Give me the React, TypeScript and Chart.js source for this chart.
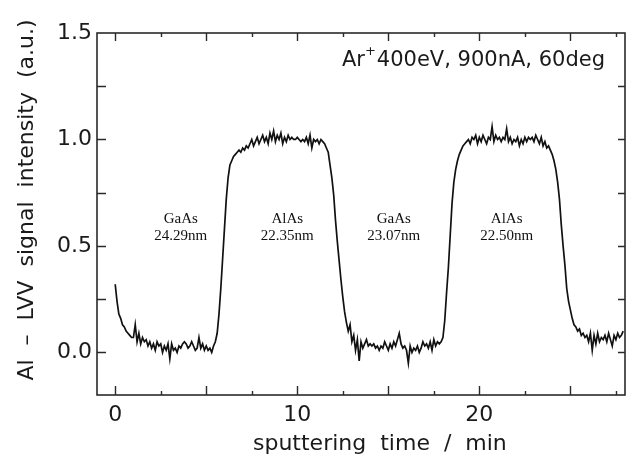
import React, { useEffect, useRef } from "react";
import { Chart, registerables } from "chart.js";

Chart.register(...registerables);

// sputtering time (min)
const timeMin = [
  0.0, 0.1, 0.2, 0.3, 0.4, 0.5, 0.6, 0.7, 0.8, 0.9,
  1.0, 1.1, 1.2, 1.3, 1.4, 1.5, 1.6, 1.7, 1.8, 1.9,
  2.0, 2.1, 2.2, 2.3, 2.4, 2.5, 2.6, 2.7, 2.8, 2.9,
  3.0, 3.1, 3.2, 3.3, 3.4, 3.5, 3.6, 3.7, 3.8, 3.9,
  4.0, 4.1, 4.2, 4.3, 4.4, 4.5, 4.6, 4.7, 4.8, 4.9,
  5.0, 5.1, 5.2, 5.3, 5.4, 5.5, 5.6, 5.7, 5.8, 5.9,
  6.0, 6.1, 6.2, 6.3, 6.4, 6.5, 6.6, 6.7, 6.8, 6.9,
  7.0, 7.1, 7.2, 7.3, 7.4, 7.5, 7.6, 7.7, 7.8, 7.9,
  8.0, 8.1, 8.2, 8.3, 8.4, 8.5, 8.6, 8.7, 8.8, 8.9,
  9.0, 9.1, 9.2, 9.3, 9.4, 9.5, 9.6, 9.7, 9.8, 9.9,
  10.0, 10.1, 10.2, 10.3, 10.4, 10.5, 10.6, 10.7, 10.8, 10.9,
  11.0, 11.1, 11.2, 11.3, 11.4, 11.5, 11.6, 11.7, 11.8, 11.9,
  12.0, 12.1, 12.2, 12.3, 12.4, 12.5, 12.6, 12.7, 12.8, 12.9,
  13.0, 13.1, 13.2, 13.3, 13.4, 13.5, 13.6, 13.7, 13.8, 13.9,
  14.0, 14.1, 14.2, 14.3, 14.4, 14.5, 14.6, 14.7, 14.8, 14.9,
  15.0, 15.1, 15.2, 15.3, 15.4, 15.5, 15.6, 15.7, 15.8, 15.9,
  16.0, 16.1, 16.2, 16.3, 16.4, 16.5, 16.6, 16.7, 16.8, 16.9,
  17.0, 17.1, 17.2, 17.3, 17.4, 17.5, 17.6, 17.7, 17.8, 17.9,
  18.0, 18.1, 18.2, 18.3, 18.4, 18.5, 18.6, 18.7, 18.8, 18.9,
  19.0, 19.1, 19.2, 19.3, 19.4, 19.5, 19.6, 19.7, 19.8, 19.9,
  20.0, 20.1, 20.2, 20.3, 20.4, 20.5, 20.6, 20.7, 20.8, 20.9,
  21.0, 21.1, 21.2, 21.3, 21.4, 21.5, 21.6, 21.7, 21.8, 21.9,
  22.0, 22.1, 22.2, 22.3, 22.4, 22.5, 22.6, 22.7, 22.8, 22.9,
  23.0, 23.1, 23.2, 23.3, 23.4, 23.5, 23.6, 23.7, 23.8, 23.9,
  24.0, 24.1, 24.2, 24.3, 24.4, 24.5, 24.6, 24.7, 24.8, 24.9,
  25.0, 25.1, 25.2, 25.3, 25.4, 25.5, 25.6, 25.7, 25.8, 25.9,
  26.0, 26.1, 26.2, 26.3, 26.4, 26.5, 26.6, 26.7, 26.8, 26.9,
  27.0, 27.1, 27.2, 27.3, 27.4, 27.5, 27.6, 27.7, 27.8, 27.9,
];

// Al-LVV signal intensity (a.u.)
const alSignal = [
  0.32, 0.24, 0.18, 0.16, 0.13, 0.12, 0.10, 0.09, 0.08, 0.07,
  0.07, 0.13, 0.05, 0.09, 0.04, 0.07, 0.05, 0.06, 0.03, 0.05,
  0.02, 0.04, 0.01, 0.05, 0.03, 0.04, 0.00, 0.03, 0.01, 0.04,
  -0.03, 0.04, 0.01, 0.02, 0.00, 0.03, 0.02, 0.04, 0.05, 0.04,
  0.02, 0.03, 0.05, 0.03, 0.01, 0.02, 0.07, 0.02, 0.04, 0.01,
  0.03, 0.01, 0.02, 0.00, 0.03, 0.05, 0.09, 0.18, 0.30, 0.44,
  0.58, 0.72, 0.82, 0.88, 0.90, 0.92, 0.93, 0.94, 0.95, 0.94,
  0.96, 0.95, 0.97, 0.96, 0.98, 1.00, 0.97, 0.99, 1.01, 0.98,
  1.00, 1.02, 0.99, 1.01, 0.98, 1.03, 1.00, 1.04, 0.99, 1.02,
  1.00, 1.03, 0.98, 1.01, 0.99, 1.02, 1.00, 1.01, 1.00, 1.00,
  1.01, 1.00, 0.99, 1.00, 0.99, 1.01, 0.98, 1.02, 0.96, 1.00,
  0.99, 1.00, 0.98, 1.00, 0.99, 0.98, 0.96, 0.94, 0.88, 0.82,
  0.74, 0.62, 0.52, 0.43, 0.34, 0.26, 0.19, 0.14, 0.10, 0.13,
  0.05, 0.08, 0.01, 0.06, -0.04, 0.05, 0.02, 0.04, 0.06, 0.03,
  0.04, 0.03, 0.04, 0.02, 0.03, 0.01, 0.03, 0.02, 0.05, 0.03,
  0.01, 0.04, 0.02, 0.05, 0.03, 0.06, 0.09, 0.04, 0.02, 0.03,
  0.01, -0.05, 0.03, 0.00, 0.02, 0.01, 0.03, 0.00, 0.02, 0.05,
  0.03, 0.04, 0.02, 0.05, 0.01, 0.06, 0.03, 0.05, 0.04, 0.05,
  0.07, 0.15, 0.28, 0.40, 0.55, 0.70, 0.80, 0.86, 0.90, 0.93,
  0.95, 0.97, 0.98, 0.99, 1.00, 0.98, 1.01, 1.00, 1.02, 0.98,
  1.01, 0.99, 1.02, 1.00, 0.98, 1.01, 1.00, 1.06, 0.99, 1.02,
  1.00, 1.01, 0.99, 1.01, 1.00, 1.05, 0.99, 1.01, 0.98, 1.00,
  0.99, 1.01, 0.97, 1.00, 0.98, 1.01, 0.99, 1.01, 1.00, 1.01,
  0.99, 1.02, 1.00, 0.98, 1.01, 0.97, 0.99, 0.96, 0.97, 0.95,
  0.93, 0.90, 0.86, 0.80, 0.72, 0.60, 0.50, 0.41, 0.30, 0.24,
  0.20, 0.16, 0.13, 0.12, 0.10, 0.11, 0.08, 0.09, 0.07, 0.08,
  0.05, 0.09, 0.01, 0.08, 0.04, 0.09, 0.05, 0.07, 0.06, 0.08,
  0.05, 0.09, 0.06, 0.03, 0.08, 0.06, 0.09, 0.07, 0.08, 0.10,
];

const xTickLabels = [0, 10, 20];
const yTickLabels = [0, 0.5, 1.0, 1.5];
const xMajorTicks = [0, 5, 10, 15, 20, 25];
const xMinorTicks = [2.5, 7.5, 12.5, 17.5, 22.5, 27.5];
const yFrameTicks = [0, 0.25, 0.5, 0.75, 1.0, 1.25];

const layerNames = ["GaAs", "AlAs", "GaAs", "AlAs"];
const layerThickness = ["24.29nm", "22.35nm", "23.07nm", "22.50nm"];
const layerLabelTime = [3.6, 9.45, 15.3, 21.5];
const layerLabelSignal = [0.61, 0.61, 0.61, 0.61];

const xTitle = "sputtering  time  /  min";
const yTitle = "Al  \u2013  LVV  signal  intensity  (a.u.)";
const conditionMain = "400eV, 900nA, 60deg";

const SANS = "'DejaVu Sans', sans-serif";
const SERIF = "'Liberation Serif', 'DejaVu Serif', serif";

const framePlugin = {
  id: "framePlugin",
  afterDatasetsDraw(chart: any) {
    const { ctx, chartArea: a, scales } = chart;
    const xs = scales.x;
    const ys = scales.y;
    ctx.save();
    ctx.strokeStyle = "#2a2a2a";
    ctx.lineWidth = 1.6;
    ctx.strokeRect(a.left, a.top, a.right - a.left, a.bottom - a.top);

    ctx.lineWidth = 1.4;
    ctx.beginPath();
    for (const v of xMajorTicks) {
      const px = Math.round(xs.getPixelForValue(v)) + 0.5;
      ctx.moveTo(px, a.bottom);
      ctx.lineTo(px, a.bottom - 9);
      ctx.moveTo(px, a.top);
      ctx.lineTo(px, a.top + 8);
    }
    for (const v of xMinorTicks) {
      const px = Math.round(xs.getPixelForValue(v)) + 0.5;
      ctx.moveTo(px, a.bottom);
      ctx.lineTo(px, a.bottom - 4);
      ctx.moveTo(px, a.top);
      ctx.lineTo(px, a.top + 4);
    }
    for (const v of yFrameTicks) {
      const py = Math.round(ys.getPixelForValue(v)) + 0.5;
      ctx.moveTo(a.left, py);
      ctx.lineTo(a.left + 9, py);
      ctx.moveTo(a.right, py);
      ctx.lineTo(a.right - 7, py);
    }
    ctx.stroke();

    // layer annotations
    ctx.fillStyle = "#111111";
    ctx.font = `15px ${SERIF}`;
    ctx.textAlign = "center";
    ctx.textBaseline = "alphabetic";
    for (let i = 0; i < layerNames.length; i++) {
      const px = xs.getPixelForValue(layerLabelTime[i]);
      const py = ys.getPixelForValue(layerLabelSignal[i]);
      ctx.fillText(layerNames[i], px, py);
      ctx.fillText(layerThickness[i], px, py + 17);
    }

    // condition text (top right)
    ctx.fillStyle = "#1a1a1a";
    ctx.font = `21px ${SANS}`;
    ctx.textAlign = "right";
    const rightX = a.right - 20;
    const base = a.top + 33;
    ctx.fillText(conditionMain, rightX, base);
    const wMain = ctx.measureText(conditionMain).width;
    ctx.font = `13px ${SANS}`;
    const plusX = rightX - wMain - 1;
    ctx.fillText("+", plusX, base - 11);
    const wPlus = ctx.measureText("+").width;
    ctx.font = `21px ${SANS}`;
    ctx.fillText("Ar", plusX - wPlus, base);

    // axis titles
    ctx.font = `22px ${SANS}`;
    ctx.textAlign = "left";
    ctx.fillText(xTitle, 253, 450);

    ctx.save();
    ctx.translate(33, 200);
    ctx.rotate(-Math.PI / 2);
    ctx.textAlign = "center";
    ctx.fillText(yTitle, 0, 0);
    ctx.restore();

    ctx.restore();
  },
};

export default function App() {
  const canvasRef = useRef<HTMLCanvasElement | null>(null);

  useEffect(() => {
    if (!canvasRef.current) return;
    const points = timeMin.map((t, i) => ({ x: t, y: alSignal[i] }));
    const chart = new Chart(canvasRef.current, {
      type: "line",
      data: {
        datasets: [
          {
            data: points,
            borderColor: "#111111",
            borderWidth: 1.7,
            pointRadius: 0,
            tension: 0,
            fill: false,
          },
        ],
      },
      options: {
        animation: false,
        responsive: false,
        maintainAspectRatio: false,
        layout: { padding: { top: 33, right: 1, left: 0, bottom: 0 } },
        plugins: {
          legend: { display: false },
          tooltip: { enabled: false },
          title: { display: false },
        },
        scales: {
          x: {
            type: "linear",
            min: -1,
            max: 28,
            grid: { display: false, drawTicks: false },
            border: { display: false },
            afterFit: (s: any) => {
              s.height = 63;
            },
            afterBuildTicks: (s: any) => {
              s.ticks = xTickLabels.map((v) => ({ value: v }));
            },
            ticks: {
              padding: 7,
              color: "#1a1a1a",
              font: { family: "DejaVu Sans", size: 22 },
              maxRotation: 0,
              callback: (v: any) => String(v),
            },
          },
          y: {
            type: "linear",
            min: -0.2,
            max: 1.5,
            grid: { display: false, drawTicks: false },
            border: { display: false },
            afterFit: (s: any) => {
              s.width = 97;
            },
            afterBuildTicks: (s: any) => {
              s.ticks = yTickLabels.map((v) => ({ value: v }));
            },
            ticks: {
              padding: 5,
              color: "#1a1a1a",
              font: { family: "DejaVu Sans", size: 22 },
              callback: (v: any) => Number(v).toFixed(1),
            },
          },
        },
      },
      plugins: [framePlugin],
    });
    return () => chart.destroy();
  }, []);

  return (
    <div
      style={{
        position: "fixed",
        left: 0,
        top: 0,
        width: 626,
        height: 458,
        background: "#ffffff",
      }}
    >
      <canvas ref={canvasRef} width={626} height={458} style={{ display: "block" }} />
    </div>
  );
}
